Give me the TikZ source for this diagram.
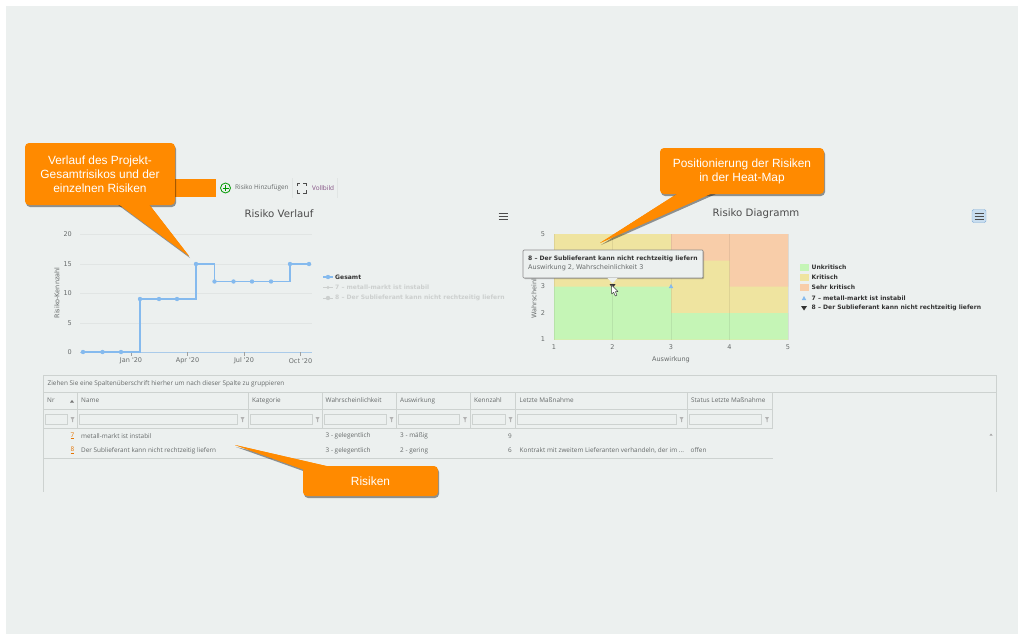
\documentclass[tikz,border=0pt]{standalone}
\usepackage{fontspec}
\setmainfont{Liberation Sans}
\newfontfamily\chartfont{DejaVu Sans}
\newfontfamily\tablefont{Open Sans}
\usetikzlibrary{shadows}
\definecolor{panelbg}{HTML}{ECF0EF}
\definecolor{callorange}{HTML}{FF8A00}
\definecolor{gridgray}{HTML}{E1E5E4}
\definecolor{tableline}{HTML}{CDD2D0}
\definecolor{serieblue}{HTML}{85BAEE}
\definecolor{heatgreen}{HTML}{C5F5B6}
\definecolor{heatyellow}{HTML}{EFE4A0}
\definecolor{heatorange}{HTML}{F8CDA9}
\definecolor{textgray}{HTML}{666A6A}
\definecolor{fadegray}{HTML}{CCCFCE}
\tikzset{
    callout/.style={fill=callorange, rounded corners=4pt, text=white, align=center, inner sep=0pt,
        font=\fontsize{11.9}{14}\selectfont},
    calloutshadow/.style={drop shadow={shadow xshift=1pt, shadow yshift=-2pt, fill=black, opacity=.4}},
    chartlabel/.style={font=\chartfont\fontsize{6.5}{8}\selectfont, text=textgray, inner sep=0pt},
    legendlabel/.style={font=\chartfont\bfseries\fontsize{6.05}{7}\selectfont, text=black!80, anchor=west, inner sep=0pt},
    charttitle/.style={font=\chartfont\fontsize{10.2}{12}\selectfont, text=black!70, inner sep=0pt},
    tablelabel/.style={font=\tablefont\fontsize{6.4}{7}\selectfont, text=textgray, anchor=west, inner sep=0pt},
    riskdot/.style={circle, fill=serieblue, inner sep=0pt, minimum size=4.4pt},
}
\begin{document}
\begin{tikzpicture}[x=1pt, y=-1pt]
    \useasboundingbox (0,0) rectangle (1024,640);
    \fill[white] (0,0) rectangle (1024,640);
    \fill[panelbg] (6,6) rectangle (1018,634);

    % toolbar
    \fill[callorange] (175,179) rectangle (216,197);
    \node[circle, draw=green!60!black, line width=.8pt, minimum size=10pt, inner sep=0pt] (addicon) at (225.5,188) {};
    \draw[green!60!black, line width=.8pt] (addicon.center) ++(-3,0) -- ++(6,0) (addicon.center) ++(0,-3) -- ++(0,6);
    \node[tablelabel] (addlabel) at (235,188) {Risiko Hinzufügen};
    \draw[gridgray] (292.5,178) -- (292.5,198) (337.5,178) -- (337.5,198);
    \draw[black!70, line width=.8pt] (297,186) -- (297,183) -- (300,183) (303,183) -- (306,183) -- (306,186)
        (306,190) -- (306,193) -- (303,193) (300,193) -- (297,193) -- (297,190);
    \node[tablelabel, text=violet!40!gray] (fulllabel) at (312,188) {Vollbild};

    % Risiko Verlauf
    \node[charttitle] (linetitle) at (279,214) {Risiko Verlauf};
    \foreach \yv/\lbl in {234/20, 264/15, 293/10, 323/5, 352/0} {
        \draw[gridgray] (80,\yv) -- (312,\yv);
        \node[chartlabel, anchor=east] (ytick\lbl) at (72,\yv) {\lbl};
    }
    \draw[serieblue!60!gridgray] (80,352) -- (312,352);
    \foreach \xv/\lbl in {131/Jan, 187.5/Apr, 244/Jul, 300.5/Oct} {
        \draw[gridgray!70!black] (\xv,352) -- (\xv,356);
        \node[chartlabel] (xtick\lbl) at (\xv,361) {\lbl\ '20};
    }
    \node[chartlabel, rotate=90] (lineylabel) at (57,293) {Risiko-Kennzahl};
    \draw[serieblue, line width=1.1pt] (83,352) -- (140,352) -- (140,299) -- (196,299) -- (196,264)
        -- (214.5,264) -- (214.5,281.5) -- (290,281.5) -- (290,264) -- (309,264);
    \foreach \xv/\yv in {83/352, 102.5/352, 121/352, 140/299, 159/299, 177/299, 196/264,
        214.5/281.5, 233.5/281.5, 252/281.5, 271/281.5, 290/264, 309/264} {
        \node[riskdot] at (\xv,\yv) {};
    }
    \draw[serieblue, line width=1.1pt] (323,277) -- (333,277);
    \node[riskdot] (legdot) at (328,277) {};
    \node[legendlabel] (leggesamt) at (335,277) {Gesamt};
    \draw[fadegray, line width=.9pt] (323,287.5) -- (333,287.5) (323,298) -- (333,298);
    \node[riskdot, fill=fadegray, minimum size=3.4pt] (legseven) at (328,287.5) {};
    \node[riskdot, fill=fadegray] (legeight) at (328,298) {};
    \node[legendlabel, text=fadegray] (legsevenlabel) at (335,287.5) {7 – metall-markt ist instabil};
    \node[legendlabel, text=fadegray] (legeightlabel) at (335,298) {8 – Der Sublieferant kann nicht rechtzeitig liefern};
    \draw[black!70, line width=1.3pt] (498.5,213.5) -- (507.5,213.5) (498.5,216.5) -- (507.5,216.5) (498.5,219.5) -- (507.5,219.5);

    % Risiko Diagramm
    \node[charttitle] (heattitle) at (756,214) {Risiko Diagramm};
    \fill[heatyellow] (554,234) rectangle (788,339.5);
    \fill[heatgreen] (554,286.5) rectangle (671,339.5) (671,313) rectangle (788,339.5);
    \fill[heatorange] (671,234) rectangle (788,260.5) (729.5,260.5) rectangle (788,286.5);
    \foreach \xv/\lbl in {554/1, 612.5/2, 671/3, 729.5/4, 788/5} {
        \draw[black, opacity=.07] (\xv,234) -- (\xv,339.5);
        \node[chartlabel] (heatx\lbl) at (\xv,347) {\lbl};
    }
    \foreach \yv/\lbl in {234/5, 286.5/3, 313/2, 339.5/1} {
        \node[chartlabel] (heaty\lbl) at (543,\yv) {\lbl};
    }
    \node[chartlabel] (heatxlabel) at (671,360) {Auswirkung};
    \node[chartlabel, rotate=90] (heatylabel) at (534,288) {Wahrscheinlichkeit};
    \fill[serieblue] (671,284) -- (673.2,288) -- (668.8,288) -- cycle;
    \fill[black!80] (609.5,284) -- (615.5,284) -- (612.5,288.5) -- cycle;
    \foreach \yv/\col/\lbl in {267.5/heatgreen/Unkritisch, 277.5/heatyellow/Kritisch, 287.5/heatorange/Sehr kritisch} {
        \fill[\col] (799.5,\yv-3.7) rectangle (808.5,\yv+3.7);
        \node[legendlabel] (leg\col) at (811.5,\yv) {\lbl};
    }
    \fill[serieblue] (804,296) -- (806.2,300) -- (801.8,300) -- cycle;
    \fill[black!80] (801,306) -- (807,306) -- (804,310.5) -- cycle;
    \node[legendlabel] (heatseven) at (811.5,298) {7 – metall-markt ist instabil};
    \node[legendlabel] (heateight) at (811.5,308) {8 – Der Sublieferant kann nicht rechtzeitig liefern};
    \node[draw=serieblue!80!gray, fill=serieblue!35!panelbg, rounded corners=1.5pt, minimum width=14pt, minimum height=13pt, inner sep=0pt] (menubtn) at (979,216) {};
    \draw[black!70, line width=.9pt] (974.5,213) -- (983.5,213) (974.5,216) -- (983.5,216) (974.5,219) -- (983.5,219);

    % tooltip
    \node[draw=black!45, fill=panelbg, line width=.7pt, rounded corners=1pt, minimum width=180pt, minimum height=28pt,
        drop shadow={shadow xshift=1pt, shadow yshift=-1pt, fill=black, opacity=.25}] (tooltip) at (613,264) {};
    \fill[panelbg] (607.5,278) -- (612.5,283.5) -- (617.5,278) -- cycle;
    \node[legendlabel] (tipheadline) at (528,258.7) {8 – Der Sublieferant kann nicht rechtzeitig liefern};
    \node[chartlabel, anchor=west] (tipline) at (528,267.5) {Auswirkung 2, Wahrscheinlichkeit 3};
    \draw[black!75, fill=white, line width=.5pt, line join=round] (611.5,285) -- (611.5,294) -- (613.7,292.3) -- (615.3,296) -- (617,295.2)
        -- (615.4,291.7) -- (618,291.5) -- cycle;

    % table
    \draw[tableline] (43.5,491.5) -- (43.5,375.5) -- (996.5,375.5) -- (996.5,491.5);
    \draw[tableline] (43.5,392.5) -- (996.5,392.5);
    \draw[tableline] (43.5,409.5) -- (772.5,409.5) (43.5,428.5) -- (772.5,428.5) (43.5,458.5) -- (772.5,458.5);
    \node[tablelabel] (grouphint) at (47.5,383.5) {Ziehen Sie eine Spaltenüberschrift hierher um nach dieser Spalte zu gruppieren};
    \foreach \n/\xa/\xb/\xe/\lbl in {nr/47/45.5/67/Nr, name/81/79.5/237/Name, kat/252/250/312/Kategorie,
        wahr/325.5/324/386/Wahrscheinlichkeit, ausw/400/398/459.5/Auswirkung, kenn/474/472/505/Kennzahl,
        mass/519.5/517.5/676/Letzte Maßnahme, stat/691/689/761.5/Status Letzte Maßnahme} {
        \node[tablelabel] (head\n) at (\xa,400.5) {\lbl};
        \draw[tableline] (\xb,414) rectangle (\xe,424);
        \fill[black!30] (\xe+3.5,417) -- (\xe+7.5,417) -- (\xe+6,419.5) -- (\xe+6,422) -- (\xe+5,422) -- (\xe+5,419.5) -- cycle;
    }
    \foreach \xv in {77,248,322,396.5,470,515.5,687,772.5} {
        \draw[tableline] (\xv,392.5) -- (\xv,428.5);
    }
    \fill[black!55] (70,402.5) -- (74,402.5) -- (72,400) -- cycle;
    \fill[black!35] (989.5,435.5) -- (992.5,435.5) -- (991,433.5) -- cycle;
    \node[tablelabel, text=orange!90!black] (rowsevennr) at (70.5,436) {\underline{7}};
    \node[tablelabel] (rowsevenname) at (81,436) {metall-markt ist instabil};
    \node[tablelabel] (rowsevenwahr) at (325.5,436) {3 - gelegentlich};
    \node[tablelabel] (rowsevenausw) at (400,436) {3 - mäßig};
    \node[tablelabel, anchor=east] (rowsevenkenn) at (512,436) {9};
    \node[tablelabel, text=orange!90!black] (roweightnr) at (70.5,450.5) {\underline{8}};
    \node[tablelabel] (roweightname) at (81,450.5) {Der Sublieferant kann nicht rechtzeitig liefern};
    \node[tablelabel] (roweightwahr) at (325.5,450.5) {3 - gelegentlich};
    \node[tablelabel] (roweightausw) at (400,450.5) {2 - gering};
    \node[tablelabel, anchor=east] (roweightkenn) at (512,450.5) {6};
    \node[tablelabel] (roweightmass) at (519.5,450.5) {Kontrakt mit zweitem Lieferanten verhandeln, der im ...};
    \node[tablelabel] (roweightstat) at (690.5,450.5) {offen};

    % callouts
    \coordinate (verlaufA) at (117,203);
    \coordinate (verlaufB) at (148,203);
    \coordinate (verlaufTip) at (189,256);
    \coordinate (heatA) at (680,192);
    \coordinate (heatB) at (715,192);
    \coordinate (heatTip) at (600,243);
    \coordinate (risikenA) at (305,470);
    \coordinate (risikenB) at (335,468);
    \coordinate (risikenTip) at (235,445);
    \fill[callorange, calloutshadow] (verlaufA) -- (verlaufTip) -- (verlaufB) -- cycle;
    \fill[callorange, calloutshadow] (heatA) -- (heatTip) -- (heatB) -- cycle;
    \fill[callorange, calloutshadow] (risikenA) -- (risikenTip) -- (risikenB) -- cycle;
    \node[callout, calloutshadow, minimum width=150pt, minimum height=62pt] (verlauf) at (100,174)
        {Verlauf des Projekt-\\Gesamtrisikos und der\\einzelnen Risiken};
    \node[callout, calloutshadow, minimum width=164pt, minimum height=46pt] (heatmap) at (742,171)
        {Positionierung der Risiken\\in der Heat-Map};
    \node[callout, calloutshadow, minimum width=135pt, minimum height=30pt] (risiken) at (370.5,481) {Risiken};
    \fill[callorange] (verlaufA) -- (verlaufTip) -- (verlaufB) -- cycle;
    \fill[callorange] (heatA) -- (heatTip) -- (heatB) -- cycle;
    \fill[callorange] (risikenA) -- (risikenTip) -- (risikenB) -- cycle;
\end{tikzpicture}
\end{document}
